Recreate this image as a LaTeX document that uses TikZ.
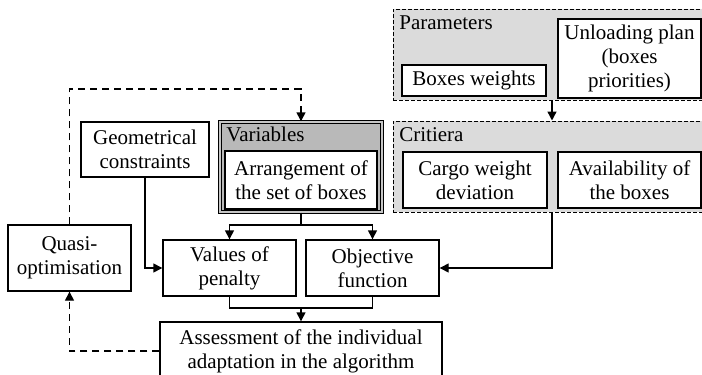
\documentclass[tikz,border=0pt]{standalone}
\usepackage{fontspec}
\setmainfont{Liberation Serif}
\newfontfamily\diagfont{Liberation Serif}
\usetikzlibrary{arrows.meta}

\begin{document}
\begin{tikzpicture}[x=0.5pt, y=-0.5pt,
  every node/.style={font=\diagfont\fontsize{10.5}{12}\selectfont},
  box/.style={draw, line width=0.7pt, fill=white, align=center, inner sep=1pt},
  group/.style={draw, dashed, line width=0.5pt, fill=gray!28, dash pattern=on 2pt off 1pt},
  lbl/.style={anchor=north west, inner sep=0pt},
  link/.style={line width=0.7pt},
  flow/.style={link, -{Triangle[length=4.5pt, width=4.5pt]}},
  back/.style={flow, dashed, dash pattern=on 3.5pt off 2.5pt}]

\clip (0,0) rectangle (702,375);

% Parameters group
\node[group, minimum width=159pt, minimum height=45.5pt] (paramgrp) at (552,54.5) {};
\node[lbl] (paramlbl) at (399,15) {Parameters};
\node[box, minimum width=72pt, minimum height=15.5pt] (weights) at (474,80.5) {Boxes weights};
\node[box, minimum width=71.5pt, minimum height=39.5pt] (unload) at (629.5,58.5)
  {Unloading plan\\(boxes\\priorities)};

% Critiera group
\node[group, minimum width=159pt, minimum height=45.5pt] (critgrp) at (552,166.5) {};
\node[lbl] (critlbl) at (399,127) {Critiera};
\node[box, minimum width=72pt, minimum height=28pt] (cargo) at (475,180) {Cargo weight\\deviation};
\node[box, minimum width=71.5pt, minimum height=28pt] (avail) at (629.5,180) {Availability of\\the boxes};

% Variables
\node[draw, line width=0.7pt, double=gray!45, double distance=1pt, fill=gray!55,
  minimum width=81pt, minimum height=45pt] (vars) at (301,167) {};
\node[lbl] (varlbl) at (226,127) {Variables};
\node[box, minimum width=76pt, minimum height=29pt] (arrange) at (301,180)
  {Arrangement of\\the set of boxes};

% remaining blocks
\node[box, minimum width=64pt, minimum height=27.5pt] (geom) at (145,149.5) {Geometrical\\constraints};
\node[box, minimum width=61.5pt, minimum height=33pt] (quasi) at (69.5,258) {Quasi-\\optimisation};
\node[box, minimum width=66.5pt, minimum height=28pt] (penalty) at (229.5,268) {Values of\\penalty};
\node[box, minimum width=66.5pt, minimum height=28pt] (objfun) at (372.5,268) {Objective\\function};
\node[box, minimum width=141pt, minimum height=29pt] (assess) at (301,351)
  {Assessment of the individual\\adaptation in the algorithm};

% connectors
\coordinate (loop) at (200,89);
\coordinate (vsplit) at (301,225);
\coordinate (join) at (301,308);

\draw[back] (quasi.north) |- (loop) -| (vars.north);
\draw[back] (assess.west) -| (quasi.south);
\draw[flow] (paramgrp.south) -- (critgrp.north);
\draw[link] (vars.south) -- (vsplit);
\draw[flow] (vsplit) -| (penalty.north);
\draw[flow] (vsplit) -| (objfun.north);
\draw[flow] (geom.south) |- (penalty.west);
\draw[flow] (critgrp.south) |- (objfun.east);
\draw[link] (penalty.south) |- (join) -| (objfun.south);
\draw[flow] (join) -- (assess.north);

\end{tikzpicture}
\end{document}
